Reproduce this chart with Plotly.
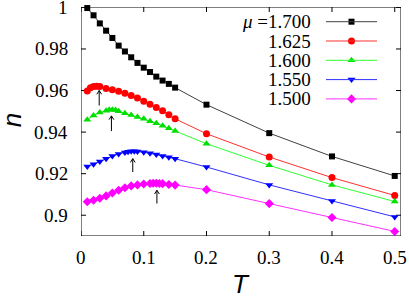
import plotly.graph_objects as go

# ---------------- data ----------------
T_dense = [0.01, 0.02, 0.03, 0.04, 0.05, 0.06, 0.07, 0.08, 0.09, 0.10,
           0.11, 0.12, 0.13, 0.14, 0.15, 0.2, 0.3, 0.4, 0.5]
n_1700 = [0.9997, 0.9962, 0.9923, 0.9888, 0.9853, 0.9816, 0.9788, 0.9760, 0.9733, 0.9710,
          0.9689, 0.9667, 0.9648, 0.9632, 0.9614, 0.9532, 0.9395, 0.9283, 0.9189]

T_1625 = [0.01, 0.015, 0.02, 0.025, 0.03, 0.04, 0.05, 0.06, 0.07, 0.08, 0.09, 0.10,
          0.11, 0.12, 0.13, 0.14, 0.15, 0.2, 0.3, 0.4, 0.5]
n_1625 = [0.9598, 0.9614, 0.9620, 0.9621, 0.9619, 0.9610, 0.9604, 0.9597, 0.9587, 0.9576,
          0.9564, 0.9549, 0.9534, 0.9518, 0.9503, 0.9484, 0.9464, 0.9392, 0.9280, 0.9181, 0.9095]

T_1600 = [0.01, 0.02, 0.03, 0.04, 0.045, 0.05, 0.055, 0.06, 0.07, 0.08, 0.09, 0.10,
          0.11, 0.12, 0.13, 0.14, 0.15, 0.2, 0.3, 0.4, 0.5]
n_1600 = [0.9460, 0.9480, 0.9494, 0.9503, 0.9507, 0.9508, 0.9506, 0.9500, 0.9491, 0.9482,
          0.9473, 0.9464, 0.9452, 0.9442, 0.9430, 0.9418, 0.9405, 0.9344, 0.9240, 0.9146, 0.9066]

T_1550 = [0.01, 0.02, 0.03, 0.04, 0.05, 0.06, 0.07, 0.075, 0.08, 0.085, 0.09, 0.10,
          0.11, 0.12, 0.13, 0.14, 0.15, 0.2, 0.3, 0.4, 0.5]
n_1550 = [0.9235, 0.9245, 0.9258, 0.9272, 0.9285, 0.9295, 0.9302, 0.9306, 0.9308, 0.9308,
          0.9307, 0.9303, 0.9298, 0.9292, 0.9285, 0.9279, 0.9272, 0.9232, 0.9146, 0.9069, 0.8992]

T_1500 = [0.01, 0.02, 0.03, 0.04, 0.05, 0.06, 0.07, 0.08, 0.09, 0.10, 0.11, 0.115,
          0.12, 0.125, 0.13, 0.14, 0.15, 0.2, 0.3, 0.4, 0.5]
n_1500 = [0.9065, 0.9072, 0.9082, 0.9093, 0.9107, 0.9120, 0.9132, 0.9141, 0.9146, 0.9150,
          0.9153, 0.9154, 0.9154, 0.9153, 0.9152, 0.9148, 0.9145, 0.9123, 0.9056, 0.8989, 0.8922]

mu_labels = ["1.700", "1.625", "1.600", "1.550", "1.500"]

# arrows marking the maxima: position, tail and tip
arrow_T = [0.029, 0.0485, 0.0825, 0.121]
arrow_tail = [0.9528, 0.9405, 0.9208, 0.9056]
arrow_tip = [0.9600, 0.9478, 0.9272, 0.9120]

x_tickvals = [0, 0.1, 0.2, 0.3, 0.4, 0.5]
x_ticktext = ["0", "0.1", "0.2", "0.3", "0.4", "0.5"]
y_tickvals = [0.9, 0.92, 0.94, 0.96, 0.98, 1.0]
y_ticktext = ["0.9", "0.92", "0.94", "0.96", "0.98", "1"]

# ---------------- style ----------------
series = [
    (T_dense, n_1700, "#000000", "#404040", "square", 6),
    (T_1625, n_1625, "#ff0000", "#ff3030", "circle", 7),
    (T_1600, n_1600, "#00e000", "#30ff30", "triangle-up", 7),
    (T_1550, n_1550, "#0000ff", "#3030ff", "triangle-down", 7),
    (T_1500, n_1500, "#ff00ff", "#ff30ff", "diamond", 7),
]

W, H = 409, 298
ML, MR, MT, MB = 81, 8, 7, 62
plot_w = W - ML - MR
plot_h = H - MT - MB
SERIF = "Liberation Serif"
XR = [0, 0.51]
YR = [0.89, 1.0002]
TICK = 5

fig = go.Figure()

# ---- frame and mirrored inside ticks, drawn as line traces from the axis ranges ----
dyt = TICK / plot_h * (YR[1] - YR[0])
dxt = TICK / plot_w * (XR[1] - XR[0])
fx = [XR[0], XR[1], XR[1], XR[0], XR[0], None]
fy_ = [YR[0], YR[0], YR[1], YR[1], YR[0], None]
for v in x_tickvals:
    fx += [v, v, None, v, v, None]
    fy_ += [YR[0], YR[0] + dyt, None, YR[1] - dyt, YR[1], None]
for v in y_tickvals:
    fx += [XR[0], XR[0] + dxt, None, XR[1] - dxt, XR[1], None]
    fy_ += [v, v, None, v, v, None]
fig.add_trace(go.Scatter(x=fx, y=fy_, mode="lines", cliponaxis=False,
                         line=dict(color="#000000", width=1),
                         showlegend=False, hoverinfo="skip"))

for xs, ys, mc, lc, sym, sz in series:
    fig.add_trace(go.Scatter(
        x=xs, y=ys, mode="lines+markers", cliponaxis=False,
        line=dict(color=lc, width=1),
        marker=dict(symbol=sym, size=sz, color=mc, line=dict(width=0)),
        showlegend=False, hoverinfo="skip"))

# arrows (shaft + open head)
hx, hy = 0.0038, 0.0018
ax_x, ax_y = [], []
for t, a_, b_ in zip(arrow_T, arrow_tail, arrow_tip):
    ax_x += [t, t, None, t - hx, t, t + hx, None]
    ax_y += [a_, b_, None, b_ - hy, b_, b_ - hy, None]
fig.add_trace(go.Scatter(x=ax_x, y=ax_y, mode="lines",
                         line=dict(color="#000000", width=1),
                         showlegend=False, hoverinfo="skip"))

# tick labels
for v, s in zip(x_tickvals, x_ticktext):
    fig.add_annotation(x=v, y=(H - MB - 257) / plot_h, xref="x", yref="paper", text=s,
                       showarrow=False, xanchor="center", yanchor="middle",
                       font=dict(family=SERIF, size=19, color="black"))
for v, s in zip(y_tickvals, y_ticktext):
    fig.add_annotation(x=(70 - ML) / plot_w, y=v, xref="paper", yref="y", text=s,
                       showarrow=False, xanchor="right", yanchor="middle",
                       font=dict(family=SERIF, size=19, color="black"))

# ---- gnuplot-style legend (paper coordinates) ----
lx0 = (326 - ML) / plot_w
lx1 = (377 - ML) / plot_w
ltx = (313 - ML) / plot_w
row0_px, row_step = 21.7, 19.3
for i, (xs, ys, mc, lc, sym, sz) in enumerate(series):
    fy = (H - MB - (row0_px + i * row_step)) / plot_h
    fig.add_shape(type="line", xref="paper", yref="paper", x0=lx0, x1=lx1, y0=fy, y1=fy,
                  line=dict(color=lc, width=1))
    fig.add_trace(go.Scatter(
        x=[XR[0] + (lx0 + lx1) / 2 * (XR[1] - XR[0])],
        y=[YR[0] + fy * (YR[1] - YR[0])], mode="markers",
        marker=dict(symbol=sym, size=sz, color=mc, line=dict(width=0)),
        showlegend=False, hoverinfo="skip"))
    txt = ("<i>μ</i> =" if i == 0 else "") + mu_labels[i]
    fig.add_annotation(x=ltx, y=fy, xref="paper", yref="paper", text=txt,
                       showarrow=False, xanchor="right", yanchor="middle",
                       font=dict(family=SERIF, size=19, color="black"))

fig.update_layout(
    width=W, height=H,
    margin=dict(l=ML, r=MR, t=MT, b=MB),
    paper_bgcolor="white", plot_bgcolor="white",
    font=dict(family=SERIF, size=19, color="black"),
    xaxis=dict(range=XR, visible=False, showgrid=False, zeroline=False),
    yaxis=dict(range=YR, visible=False, showgrid=False, zeroline=False),
)

fig.add_annotation(x=0.5, y=(H - MB - 284) / plot_h, xref="paper", yref="paper",
                   text="<i>T</i>", showarrow=False, xanchor="center", yanchor="middle",
                   font=dict(family="Liberation Sans", size=26, color="black"))
fig.add_annotation(x=(12 - ML) / plot_w, y=0.505, xref="paper", yref="paper",
                   text="<i>n</i>", showarrow=False, xanchor="center", yanchor="middle",
                   textangle=-90,
                   font=dict(family="Liberation Sans", size=26, color="black"))

fig.write_html("out.html", config={"displayModeBar": False},
               post_script="document.body.style.margin='0px';document.body.style.overflow='hidden';")
